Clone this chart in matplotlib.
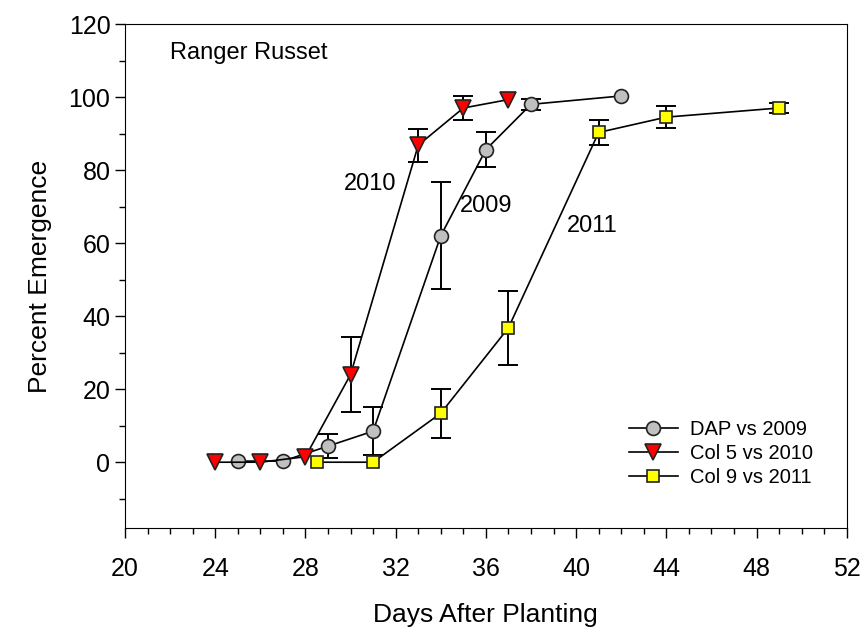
import numpy as np
import matplotlib
matplotlib.use("Agg")
import matplotlib.pyplot as plt
from matplotlib.ticker import MultipleLocator

plt.rcParams['font.family'] = ['Liberation Sans', 'DejaVu Sans']

# Data: days after planting, percent emergence, error
days_2009 = [25, 27, 29, 31, 34, 36, 38, 42]
emerg_2009 = [0.3, 0.3, 4.4, 8.5, 62, 85.6, 98, 100.3]
err_2009 = [0, 0, 3.2, 6.5, 14.7, 4.7, 1.5, 0]

days_2010 = [24, 26, 28, 30, 33, 35, 37]
emerg_2010 = [0, 0, 1.5, 24, 86.8, 97, 99.3]
err_2010 = [0, 0, 0, 10.3, 4.5, 3.2, 0]

days_2011 = [28.5, 31, 34, 37, 41, 44, 49]
emerg_2011 = [0, 0, 13.4, 36.8, 90.3, 94.5, 97]
err_2011 = [0, 0, 6.7, 10.2, 3.4, 3.1, 1.5]

fig = plt.figure(figsize=(8.64, 6.27), dpi=100)
ax = fig.add_axes([0.1447, 0.158, 0.8353, 0.8037])

series = [
    (days_2009, emerg_2009, err_2009, 'o', 10, '#c0c0c0', 'DAP vs 2009'),
    (days_2010, emerg_2010, err_2010, 'v', 12, '#ff0000', 'Col 5 vs 2010'),
    (days_2011, emerg_2011, err_2011, 's', 8.5, '#ffff00', 'Col 9 vs 2011'),
]
for i, (x, y, e, m, ms, fc, lab) in enumerate(series):
    x, y, e = np.array(x), np.array(y), np.array(e)
    keep = e > 0
    ax.errorbar(x[keep], y[keep], yerr=e[keep], fmt='none', ecolor='black',
                elinewidth=1.4, capsize=7, capthick=1.4, zorder=2 + i)
    ax.plot(x, y, color='black', lw=1.2, marker=m, ms=ms, mfc=fc,
            mec='#222222', mew=1.2, label=lab, zorder=2.5 + i)

ax.set_xlim(20, 52)
ax.set_ylim(-18, 120)
ax.xaxis.set_major_locator(MultipleLocator(4))
ax.xaxis.set_minor_locator(MultipleLocator(1))
ax.set_yticks(np.arange(0, 121, 20))
ax.set_yticks(np.arange(-10, 120, 20), minor=True)
ax.tick_params(axis='both', which='major', direction='out', length=7,
               width=1, labelsize=18)
ax.tick_params(axis='both', which='minor', direction='out', length=4.5, width=1)
ax.tick_params(top=False, right=False, which='both')
ax.tick_params(axis='x', pad=14)

ax.set_xlabel('Days After Planting', fontsize=19, labelpad=16)
ax.set_ylabel('Percent Emergence', fontsize=19, labelpad=12)

ax.text(22.0, 112, 'Ranger Russet', fontsize=17, va='center', ha='left')
ax.text(30.85, 76.3, '2010', fontsize=17, va='center', ha='center')
ax.text(36.0, 70.2, '2009', fontsize=17, va='center', ha='center')
ax.text(40.7, 64.7, '2011', fontsize=17, va='center', ha='center')

ax.legend(loc='lower right', bbox_to_anchor=(0.978, 0.045), frameon=False,
          fontsize=14.5, handlelength=2.4, labelspacing=0.25, handletextpad=0.6)

fig.savefig('out.png', dpi=100)
